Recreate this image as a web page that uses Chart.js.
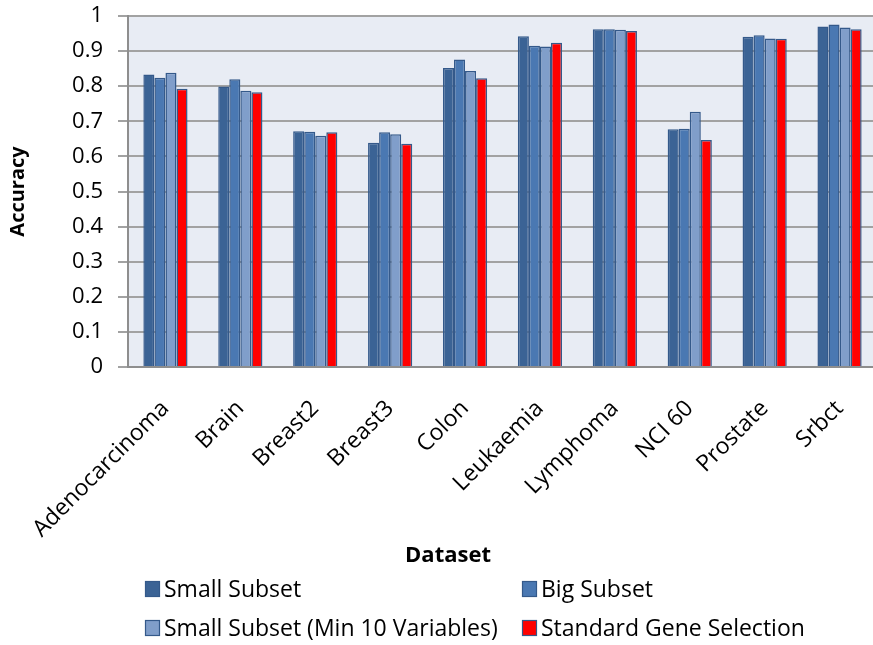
<!DOCTYPE html>
<html>
<head>
<meta charset="utf-8">
<script src="https://cdn.jsdelivr.net/npm/chart.js@4.4.1/dist/chart.umd.min.js"></script>
<style>
  html, body { margin: 0; padding: 0; background: #fff; overflow: hidden; width: 873px; height: 645px; }
  canvas { display: block; }
</style>
</head>
<body>
<canvas id="chart" width="880" height="645" style="width:880px;height:645px"></canvas>
<script>
// Classification accuracy per dataset for each gene-selection approach
const categories = ['Adenocarcinoma', 'Brain', 'Breast2', 'Breast3', 'Colon', 'Leukaemia', 'Lymphoma', 'NCI 60', 'Prostate', 'Srbct'];
const smallSubset      = [0.833, 0.799, 0.672, 0.639, 0.852, 0.942, 0.962, 0.677, 0.941, 0.970];
const bigSubset        = [0.824, 0.820, 0.670, 0.669, 0.876, 0.915, 0.962, 0.679, 0.945, 0.976];
const smallSubsetMin10 = [0.838, 0.787, 0.659, 0.663, 0.843, 0.913, 0.961, 0.727, 0.936, 0.967];
const standardGeneSel  = [0.793, 0.783, 0.669, 0.636, 0.823, 0.924, 0.957, 0.647, 0.935, 0.962];
const seriesNames = ['Small Subset', 'Big Subset', 'Small Subset (Min 10 Variables)', 'Standard Gene Selection'];
const yTickLabels = ['0', '0.1', '0.2', '0.3', '0.4', '0.5', '0.6', '0.7', '0.8', '0.9', '1'];

const FONT = '"Open Sans", "DejaVu Sans", sans-serif';
const fills = ['#3B6395', '#4A78B2', '#809ECA', '#FF0000'];
const edge = '#34598A';

// Light blue-grey fill behind the plot area
const plotBackground = {
  id: 'plotBackground',
  beforeDraw(chart) {
    const { ctx, chartArea: a } = chart;
    ctx.save();
    ctx.fillStyle = '#E8ECF4';
    ctx.fillRect(a.left, a.top, a.right - a.left, a.bottom - a.top);
    ctx.restore();
  }
};

// Axis caption under the category labels and a two-column legend
const bottomBlock = {
  id: 'bottomBlock',
  afterDraw(chart) {
    const ctx = chart.ctx;
    ctx.save();
    ctx.fillStyle = '#000';
    ctx.font = 'bold 22px ' + FONT;
    ctx.textAlign = 'center';
    ctx.textBaseline = 'middle';
    ctx.fillText('Dataset', 448, 556);

    const cols = [145, 522];
    const rows = [589, 628];
    ctx.font = '23px ' + FONT;
    ctx.textAlign = 'left';
    chart.data.datasets.forEach((ds, i) => {
      const x = cols[i % 2];
      const y = rows[Math.floor(i / 2)];
      ctx.fillStyle = ds.backgroundColor;
      ctx.fillRect(x, y - 8, 15, 16);
      ctx.strokeStyle = ds.borderColor;
      ctx.lineWidth = 1.2;
      ctx.strokeRect(x + 0.5, y - 7.5, 14, 15);
      ctx.fillStyle = '#000';
      ctx.fillText(ds.label, x + 19, y + 1);
    });
    ctx.restore();
  }
};

const seriesValues = [smallSubset, bigSubset, smallSubsetMin10, standardGeneSel];

new Chart(document.getElementById('chart'), {
  type: 'bar',
  data: {
    labels: categories,
    datasets: seriesValues.map((vals, i) => ({
      label: seriesNames[i],
      data: vals,
      backgroundColor: fills[i],
      borderColor: edge,
      borderWidth: 1.5,
      barPercentage: 1.0,
      categoryPercentage: 0.59
    }))
  },
  options: {
    responsive: false,
    animation: false,
    layout: { padding: { top: 16, right: 3, left: 0, bottom: 0 } },
    plugins: {
      legend: { display: false },
      tooltip: { enabled: false }
    },
    scales: {
      x: {
        offset: true,
        grid: { display: false },
        border: { display: true, color: '#8E8E8E', width: 2 },
        ticks: {
          autoSkip: false,
          minRotation: 45,
          maxRotation: 45,
          padding: 20,
          color: '#000',
          font: { family: FONT, size: 23 }
        },
        afterFit(scale) { scale.height = 278; }
      },
      y: {
        min: 0,
        max: 1,
        ticks: {
          stepSize: 0.1,
          padding: 15,
          color: '#000',
          font: { family: FONT, size: 22 },
          callback: (v, idx) => yTickLabels[idx]
        },
        grid: { color: '#A2A2A2', lineWidth: 2, tickLength: 10, drawTicks: true },
        border: { display: true, color: '#8E8E8E', width: 2 },
        title: {
          display: true,
          text: 'Accuracy',
          color: '#000',
          font: { family: FONT, size: 20, weight: 'bold' },
          padding: { top: 6, bottom: 0 }
        },
        afterFit(scale) {
          scale.width = 128;
          scale.paddingTop = 0;
          scale.paddingBottom = 0;
        }
      }
    }
  },
  plugins: [plotBackground, bottomBlock]
});
</script>
</body>
</html>
